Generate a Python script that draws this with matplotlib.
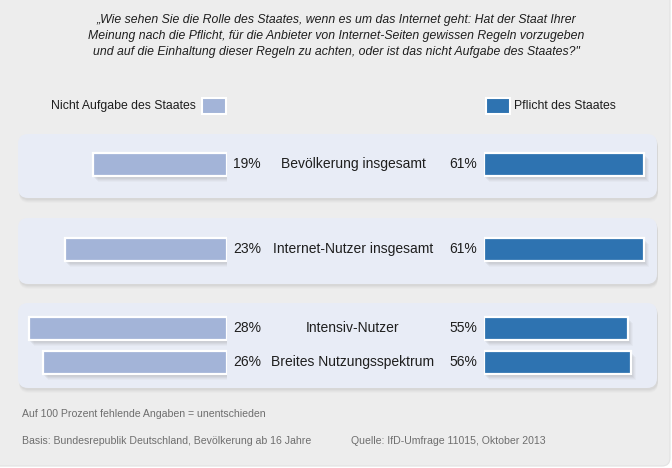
import matplotlib.pyplot as plt
from matplotlib.patches import FancyBboxPatch, Rectangle
from matplotlib import transforms

plt.rcParams['font.family'] = ['Liberation Sans', 'DejaVu Sans']

# Data
groups = ['Bevölkerung insgesamt', 'Internet-Nutzer insgesamt',
          'Intensiv-Nutzer', 'Breites Nutzungsspektrum']
nicht_aufgabe = [19, 23, 28, 26]
pflicht = [61, 61, 55, 56]

title = ('„Wie sehen Sie die Rolle des Staates, wenn es um das Internet geht: Hat der Staat Ihrer\n'
         'Meinung nach die Pflicht, für die Anbieter von Internet-Seiten gewissen Regeln vorzugeben\n'
         'und auf die Einhaltung dieser Regeln zu achten, oder ist das nicht Aufgabe des Staates?"')
note = 'Auf 100 Prozent fehlende Angaben = unentschieden'
basis = 'Basis: Bundesrepublik Deutschland, Bevölkerung ab 16 Jahre'
quelle = 'Quelle: IfD-Umfrage 11015, Oktober 2013'

light = '#A3B4D8'
dark = '#2E73B1'
panel_col = '#E8ECF6'
bg_col = '#EDEDED'
text_col = '#1E1E1E'
note_col = '#6E6E6E'

# layout (pixels)
W, H = 672, 468
row_y = [164, 249, 328, 362]
bar_h = 23
panels = [(18, 134, 639, 64), (18, 218, 639, 66), (18, 303, 639, 85)]

fig = plt.figure(figsize=(W / 100, H / 100), dpi=100)
fig.patch.set_facecolor('white')

bg = fig.add_axes([0, 0, 1, 1])
bg.set_xlim(0, W)
bg.set_ylim(H, 0)
bg.axis('off')

bg.add_patch(FancyBboxPatch((-20, -20), 690, 486, boxstyle='round,pad=0,rounding_size=8',
                            facecolor=bg_col, edgecolor='#E2E2E2', lw=0.8))

# panels with soft shadow
for x, y, w, h in panels:
    for k, a in [(5, 0.04), (4, 0.06), (3, 0.08), (2, 0.1)]:
        bg.add_patch(FancyBboxPatch((x + 1, y + k), w, h, boxstyle='round,pad=0,rounding_size=10',
                                    facecolor='#9A9A9A', edgecolor='none', alpha=a))
    bg.add_patch(FancyBboxPatch((x, y), w, h, boxstyle='round,pad=0,rounding_size=10',
                                facecolor=panel_col, edgecolor='none'))

bg.text(336, 36, title, ha='center', va='center', fontsize=8.8, style='italic',
        color=text_col, linespacing=1.4)

# legend
bg.add_patch(Rectangle((202, 98), 24, 16, facecolor=light, edgecolor='white', lw=1.5))
bg.text(196, 106, 'Nicht Aufgabe des Staates', ha='right', va='center', fontsize=8.8, color=text_col)
bg.add_patch(Rectangle((486, 98), 24, 16, facecolor=dark, edgecolor='white', lw=1.5))
bg.text(514, 106, 'Pflicht des Staates', ha='left', va='center', fontsize=8.8, color=text_col)

# bar axes: left scale ~7.06 px per %, right ~2.62 px per %
left_px, left_r = 10, 227
right_l, right_px = 484, 665
axl = fig.add_axes([left_px / W, 0, (left_r - left_px) / W, 1])
axl.set_xlim((left_r - left_px) / 7.06, 0)
axr = fig.add_axes([right_l / W, 0, (right_px - right_l) / W, 1])
axr.set_xlim(0, (right_px - right_l) / 2.62)
for ax, vals, col in [(axl, nicht_aufgabe, light), (axr, pflicht, dark)]:
    ax.set_ylim(H, 0)
    ax.axis('off')
    ax.patch.set_alpha(0)
    for k, a in [(6, 0.05), (5, 0.07), (4, 0.09), (3, 0.1), (2, 0.1)]:
        tr = transforms.offset_copy(ax.transData, fig=fig, x=k - 1, y=-k, units='dots')
        ax.barh(row_y, vals, height=bar_h, color='#8E8E8E', alpha=a, transform=tr, lw=0)
    ax.barh(row_y, vals, height=bar_h, color=col, edgecolor='white', lw=1.6)

for y, g, a, b in zip(row_y, groups, nicht_aufgabe, pflicht):
    bg.text(233, y, f'{a}%', ha='left', va='center', fontsize=10, color=text_col)
    bg.text(353, y, g, ha='center', va='center', fontsize=10, color=text_col)
    bg.text(477, y, f'{b}%', ha='right', va='center', fontsize=10, color=text_col)

bg.text(22, 414, note, ha='left', va='center', fontsize=7.6, color=note_col)
bg.text(22, 441, basis, ha='left', va='center', fontsize=7.6, color=note_col)
bg.text(351, 441, quelle, ha='left', va='center', fontsize=7.6, color=note_col)

fig.savefig('out.png', dpi=100, facecolor=fig.get_facecolor())
